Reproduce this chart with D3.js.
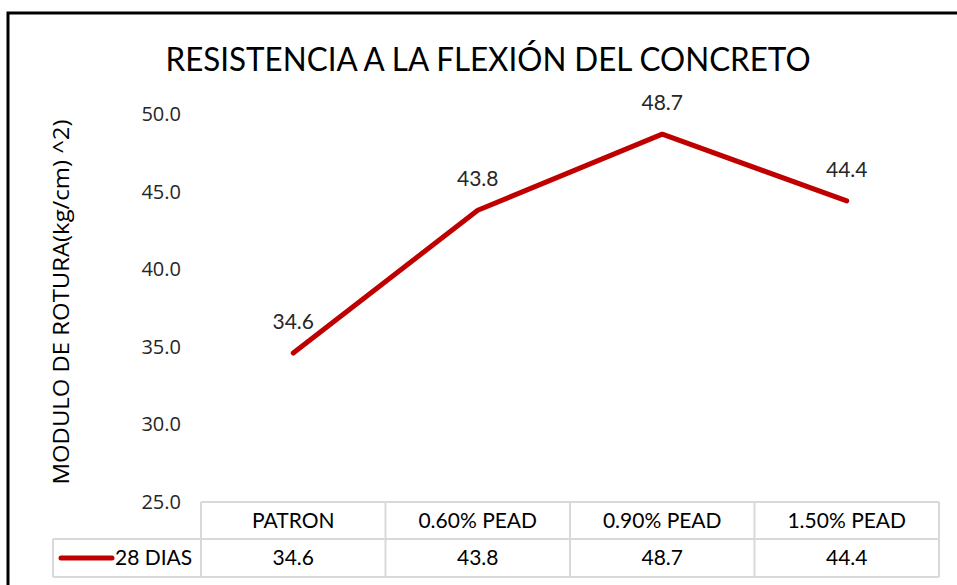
<!DOCTYPE html>
<html>
<head>
<meta charset="utf-8">
<script src="https://cdn.jsdelivr.net/npm/d3@7"></script>
<style>
  body { margin: 0; background: #fff; }
  svg { display: block; }
  .narrow { font-family: Lato, 'Liberation Sans', sans-serif; }
  .seg { font-family: 'Open Sans', 'Noto Sans', sans-serif; }
</style>
</head>
<body>
<svg id="chart" width="957" height="585"></svg>
<script>
// chart data
var categories = ['PATRON', '0.60% PEAD', '0.90% PEAD', '1.50% PEAD'];
var values = [34.6, 43.8, 48.7, 44.4];
var seriesName = '28 DIAS';
var yTicks = [25, 30, 35, 40, 45, 50];

var W = 957, H = 585;
var svg = d3.select('#chart');

// outer frame (only top and left visible in the crop)
svg.append('path')
    .attr('d', 'M8,' + H + ' L8,13 L' + W + ',13')
    .attr('fill', 'none')
    .attr('stroke', '#000')
    .attr('stroke-width', 3);

var plotLeft = 201, plotRight = 939, plotTop = 114, plotBottom = 502;

var x = d3.scaleBand().domain(categories).range([plotLeft, plotRight]);
var y = d3.scaleLinear().domain([25, 50]).range([plotBottom, plotTop]);

// title
svg.append('text')
    .attr('class', 'narrow')
    .attr('x', 488).attr('y', 71)
    .attr('text-anchor', 'middle')
    .attr('font-size', 33)
    .attr('textLength', 645)
    .attr('lengthAdjust', 'spacingAndGlyphs')
    .attr('fill', '#000')
    .text('RESISTENCIA A LA FLEXIÓN DEL CONCRETO');

// y axis (labels only)
var yAxis = d3.axisLeft(y).tickValues(yTicks).tickFormat(d3.format('.1f')).tickSize(0).tickPadding(0);
var ga = svg.append('g')
    .attr('transform', 'translate(181,0)')
    .call(yAxis);
ga.select('.domain').remove();
ga.selectAll('text')
    .attr('class', 'seg')
    .attr('font-size', 20)
    .attr('fill', '#262626');

// y axis title
svg.append('text')
    .attr('class', 'seg')
    .attr('transform', 'translate(69,' + ((plotTop + plotBottom) / 2 - 6) + ') rotate(-90)')
    .attr('text-anchor', 'middle')
    .attr('font-size', 21)
    .attr('textLength', 365)
    .attr('lengthAdjust', 'spacingAndGlyphs')
    .attr('fill', '#000')
    .text('MODULO DE ROTURA(kg/cm) ^2)');

// line
var line = d3.line()
    .x(function(d, i) { return x(categories[i]) + x.bandwidth() / 2; })
    .y(function(d) { return y(d); });

svg.append('path')
    .datum(values)
    .attr('d', line)
    .attr('fill', 'none')
    .attr('stroke', '#C00000')
    .attr('stroke-width', 5)
    .attr('stroke-linejoin', 'round')
    .attr('stroke-linecap', 'round');

// data labels
svg.selectAll('.dlabel')
    .data(values)
    .join('text')
    .attr('class', 'dlabel narrow')
    .attr('x', function(d, i) { return x(categories[i]) + x.bandwidth() / 2; })
    .attr('y', function(d) { return y(d) - 24; })
    .attr('text-anchor', 'middle')
    .attr('font-size', 21)
    .attr('fill', '#262626')
    .text(function(d) { return d3.format('.1f')(d); });

// data table
var rowTop = 502, rowMid = 539, rowBot = 577, legendLeft = 53;
var grid = svg.append('g').attr('stroke', '#d9d9d9').attr('stroke-width', 2).attr('fill', 'none');
grid.append('line').attr('x1', plotLeft).attr('x2', plotRight).attr('y1', rowTop).attr('y2', rowTop);
grid.append('line').attr('x1', legendLeft).attr('x2', plotRight).attr('y1', rowMid).attr('y2', rowMid);
grid.append('line').attr('x1', legendLeft).attr('x2', plotRight).attr('y1', rowBot).attr('y2', rowBot);
grid.append('line').attr('x1', legendLeft).attr('x2', legendLeft).attr('y1', rowMid).attr('y2', rowBot);
grid.selectAll('.vline')
    .data(categories.concat(['end']))
    .join('line')
    .attr('x1', function(d, i) { return plotLeft + i * x.bandwidth(); })
    .attr('x2', function(d, i) { return plotLeft + i * x.bandwidth(); })
    .attr('y1', rowTop).attr('y2', rowBot);

svg.selectAll('.hdr')
    .data(categories)
    .join('text')
    .attr('class', 'hdr narrow')
    .attr('x', function(d) { return x(d) + x.bandwidth() / 2; })
    .attr('y', (rowTop + rowMid) / 2 + 7)
    .attr('text-anchor', 'middle')
    .attr('font-size', 21)
    .attr('fill', '#000')
    .text(function(d) { return d; });

svg.selectAll('.cell')
    .data(values)
    .join('text')
    .attr('class', 'cell narrow')
    .attr('x', function(d, i) { return x(categories[i]) + x.bandwidth() / 2; })
    .attr('y', (rowMid + rowBot) / 2 + 7)
    .attr('text-anchor', 'middle')
    .attr('font-size', 21)
    .attr('fill', '#000')
    .text(function(d) { return d3.format('.1f')(d); });

// legend key
svg.append('line')
    .attr('x1', 61).attr('x2', 112)
    .attr('y1', (rowMid + rowBot) / 2).attr('y2', (rowMid + rowBot) / 2)
    .attr('stroke', '#C00000')
    .attr('stroke-width', 5)
    .attr('stroke-linecap', 'round');
svg.append('text')
    .attr('class', 'narrow')
    .attr('x', 115)
    .attr('y', (rowMid + rowBot) / 2 + 7)
    .attr('font-size', 21)
    .attr('fill', '#000')
    .text(seriesName);
</script>
</body>
</html>
